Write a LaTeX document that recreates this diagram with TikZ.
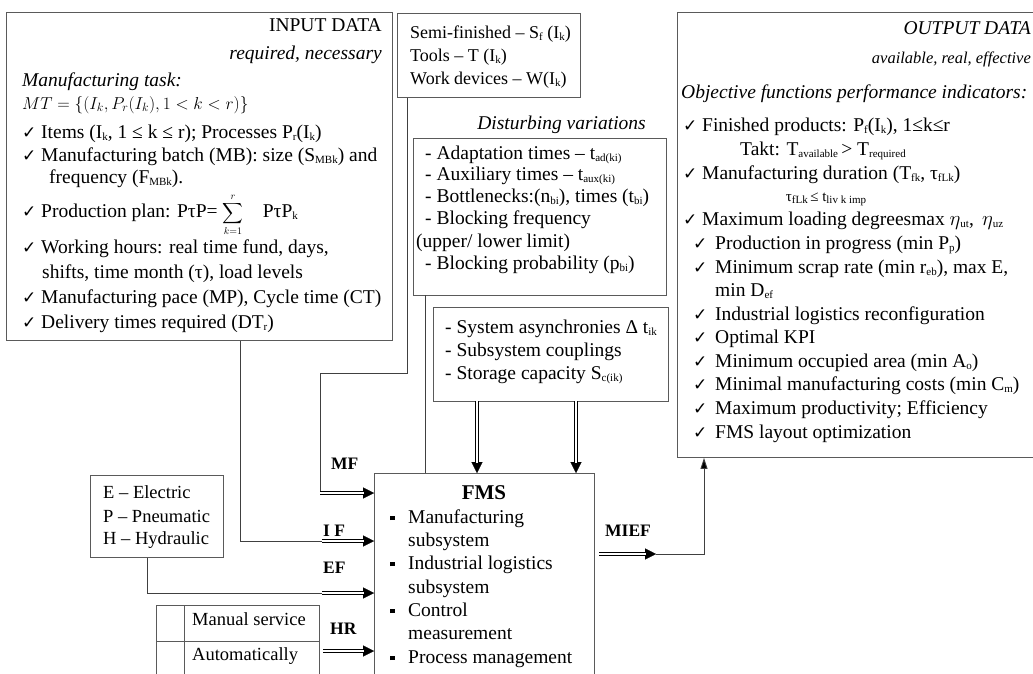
\documentclass[tikz,border=0pt]{standalone}
\usepackage{exscale}
\usepackage{fontspec}
\setmainfont{Liberation Serif}
\newfontfamily\symf{DejaVu Sans}
\usetikzlibrary{arrows.meta}
\definecolor{boxc}{HTML}{5A5A5A}
\definecolor{linec}{HTML}{404040}
\newcommand\lo[1]{\raisebox{-0.3ex}{\fontsize{11}{11}\selectfont #1}}
\newcommand\ckA{\makebox[19pt][l]{\symf\fontsize{17}{17}\selectfont ✓}}
\newcommand\ckB{\makebox[22pt][l]{\symf\fontsize{17}{17}\selectfont ✓}}
\newcommand\bul{\makebox[18pt][l]{\rule[3pt]{4.5pt}{4.5pt}}}
\newcommand\dblarr[2]{\draw[tipline] (#1) -- (#2); \draw[dblline] (#1) -- (#2);}
\begin{document}
\begin{tikzpicture}[x=1pt,y=-1pt,
 box/.style={draw=boxc, line width=0.9pt, inner sep=0pt, anchor=north west},
 txt/.style={anchor=base west, inner sep=0pt, font=\fontsize{19.5}{22}\selectfont},
 rtxt/.style={txt, anchor=base east},
 stxt/.style={anchor=base west, inner sep=0pt, font=\fontsize{18}{21}\selectfont},
 conn/.style={draw=linec, line width=0.9pt},
 dblline/.style={draw=black, line width=0.75pt, double=white, double distance=2.2pt, shorten >=10pt},
 tipline/.style={draw=black, line width=0.2pt, -{Triangle[length=11pt,width=11pt]}},
 lbl/.style={anchor=base west, inner sep=0pt, font=\fontsize{17.5}{20}\selectfont\bfseries},
]
\useasboundingbox (0,0) rectangle (1033,673);
% boxes
\node[box, minimum width=386pt, minimum height=328pt] (inbox) at (6,12) {};
\node[box, minimum width=183pt, minimum height=84pt] (semi) at (397,13) {};
\node[box, minimum width=253pt, minimum height=157pt] (dist) at (413,138) {};
\node[box, minimum width=235pt, minimum height=94pt] (sys) at (433,307) {};
\node[box, minimum width=380pt, minimum height=445pt] (out) at (677,12) {};
\node[box, minimum width=220pt, minimum height=240pt] (fms) at (374,473) {};
\node[box, minimum width=133pt, minimum height=82pt] (ep) at (90,475) {};
\node[box, minimum width=163pt, minimum height=100pt] (tab) at (156,605) {};
\draw[conn,draw=boxc] ([xshift=28pt]tab.north west) -- ([xshift=28pt]tab.south west);
\draw[conn,draw=boxc] ([yshift=-36pt]tab.north west) -- ([yshift=-36pt]tab.north east);

% input data
\node[rtxt] (inT) at (382,31) {INPUT DATA};
\node[rtxt] (inR) at (382,59) {\itshape required, necessary};
\node[txt] (inM) at (22,86) {\itshape Manufacturing task:};
\node[txt, font=\fontsize{17}{20}\selectfont] (inMT) at (22,109) {$MT = \{(I_k, P_r(I_k), 1 < k < r)\}$};
\node[txt] (i1) at (22,138) {\ckA Items (I\lo{k}, 1 ≤ k ≤ r); Processes P\lo{r}(I\lo{k})};
\node[txt] (i2) at (22,161) {\ckA Manufacturing batch (MB): size (S\lo{MBk}) and};
\node[txt] (i2b) at (49,183) {frequency (F\lo{MBk}).};
\node[txt] (i3) at (22,217) {\ckA Production plan: PτP= {\fontsize{14.5}{16}\selectfont$\displaystyle\sum_{k=1}^{r}$}\quad PτP\lo{k}};
\node[txt] (i4) at (22,253) {\ckA Working hours: real time fund, days,};
\node[txt] (i4b) at (42,278) {shifts, time month (τ), load levels};
\node[txt] (i5) at (22,303) {\ckA Manufacturing pace (MP), Cycle time (CT)};
\node[txt] (i6) at (22,328) {\ckA Delivery times required (DT\lo{r})};

% semi-finished
\node[stxt] (s1) at (410,38) {Semi-finished – S\lo{f} (I\lo{k})};
\node[stxt] (s2) at (410,61) {Tools – T (I\lo{k})};
\node[stxt] (s3) at (410,84) {Work devices – W(I\lo{k})};

% disturbing
\node[rtxt] (dT) at (646,129) {\itshape Disturbing variations};
\node[txt] (d1) at (425,159) {- Adaptation times – t\lo{ad(ki)}};
\node[txt] (d2) at (425,180) {- Auxiliary times – t\lo{aux(ki)}};
\node[txt] (d3) at (425,202) {- Bottlenecks:(n\lo{bi}), times (t\lo{bi})};
\node[txt] (d4) at (425,224) {- Blocking frequency};
\node[txt] (d5) at (416,247) {(upper/ lower limit)};
\node[txt] (d6) at (425,269) {- Blocking probability (p\lo{bi})};

% system
\node[txt] (y1) at (445,333) {- System asynchronies Δ t\lo{ik}};
\node[txt] (y2) at (445,356) {- Subsystem couplings};
\node[txt] (y3) at (445,379) {- Storage capacity S\lo{c(ik)}};

% output
\node[rtxt] (oT) at (1031,34) {\itshape OUTPUT DATA};
\node[rtxt, font=\fontsize{16.5}{19}\selectfont] (oA) at (1031,63) {\itshape available, real, effective};
\node[txt] (oO) at (681,98) {\itshape Objective functions performance indicators:};
\node[txt] (o1) at (683,131) {\ckA Finished products: P\lo{f}(I\lo{k}), 1≤k≤r};
\node[txt] (o1b) at (740,155) {Takt: T\lo{available}\,> T\lo{required}};
\node[txt] (o2) at (683,179) {\ckA Manufacturing duration (T\lo{fk}, τ\lo{fLk})};
\node[anchor=base, inner sep=0pt, font=\fontsize{15}{17}\selectfont] (o2b) at (826,201) {τ\lo{fLk}\,≤ t\lo{liv k imp}};
\node[txt] (o3) at (683,225) {\ckA Maximum loading degreesmax $\eta$\lo{ut}, \,$\eta$\lo{uz}};
\node[txt] (o4) at (693,249) {\ckB Production in progress (min P\lo{p})};
\node[txt] (o5) at (693,273) {\ckB Minimum scrap rate (min r\lo{eb}), max E,};
\node[txt] (o5b) at (715,296) {min D\lo{ef}};
\node[txt] (o6) at (693,320) {\ckB Industrial logistics reconfiguration};
\node[txt] (o7) at (693,343) {\ckB Optimal KPI};
\node[txt] (o8) at (693,367) {\ckB Minimum occupied area (min A\lo{o})};
\node[txt] (o9) at (693,390) {\ckB Minimal manufacturing costs (min C\lo{m})};
\node[txt] (o10) at (693,414) {\ckB Maximum productivity; Efficiency};
\node[txt] (o11) at (693,438) {\ckB FMS layout optimization};

% E P H box
\node[stxt, font=\fontsize{18.5}{21}\selectfont] (e1) at (103,498) {E – Electric};
\node[stxt, font=\fontsize{18.5}{21}\selectfont] (e2) at (103,522) {P – Pneumatic};
\node[stxt, font=\fontsize{18.5}{21}\selectfont] (e3) at (103,544) {H – Hydraulic};

% table
\node[stxt, font=\fontsize{18.5}{21}\selectfont] (t1) at (192,625) {Manual service};
\node[stxt, font=\fontsize{18.5}{21}\selectfont] (t2) at (192,660) {Automatically};

% FMS
\node[anchor=base, inner sep=0pt, font=\fontsize{21}{24}\selectfont\bfseries] (fT) at (484,499) {FMS};
\node[txt] (f1) at (390,523) {\bul Manufacturing};
\node[txt] (f1b) at (408,546) {subsystem};
\node[txt] (f2) at (390,569) {\bul Industrial logistics};
\node[txt] (f2b) at (408,593) {subsystem};
\node[txt] (f3) at (390,616) {\bul Control};
\node[txt] (f3b) at (408,639) {measurement};
\node[txt] (f4) at (390,663) {\bul Process management};

% labels
\node[lbl] (lMF) at (331,469) {MF};
\node[lbl] (lIF) at (323,536) {I F};
\node[lbl] (lEF) at (323,573) {EF};
\node[lbl] (lHR) at (330,634) {HR};
\node[lbl] (lMIEF) at (605,536) {MIEF};

% connectors
\coordinate (a1) at (407,373);
\coordinate (a2) at (320,373);
\coordinate (a3) at (320,493);
\draw[conn] ([xshift=10pt]semi.south west) -- (a1) -- (a2) -- (a3);
\dblarr{a3}{fms.west |- a3}

\coordinate (b1) at (240,541);
\coordinate (b2) at (322,541);
\draw[conn] (b1 |- inbox.south) -- (b1) -- (b2);
\dblarr{b2}{fms.west |- b2}

\coordinate (c1) at (147,593);
\coordinate (c2) at (322,593);
\draw[conn] (c1 |- ep.south) -- (c1) -- (c2);
\dblarr{c2}{fms.west |- c2}

\coordinate (d0) at (323,651);
\dblarr{d0}{fms.west |- d0}

\coordinate (k1) at (425,295);
\draw[conn] (k1) -- (k1 |- fms.north);

\coordinate (g1) at (477,401);
\coordinate (g2) at (576,401);
\dblarr{g1}{g1 |- fms.north}
\dblarr{g2}{g2 |- fms.north}

\coordinate (h1) at (599,554);
\coordinate (h2) at (656,554);
\coordinate (h3) at (704,554);
\dblarr{h1}{h2}
\draw[conn, -{Triangle[length=11pt,width=7pt,fill=black]}] (h2) -- (h3) -- (h3 |- out.south);
\end{tikzpicture}
\end{document}
